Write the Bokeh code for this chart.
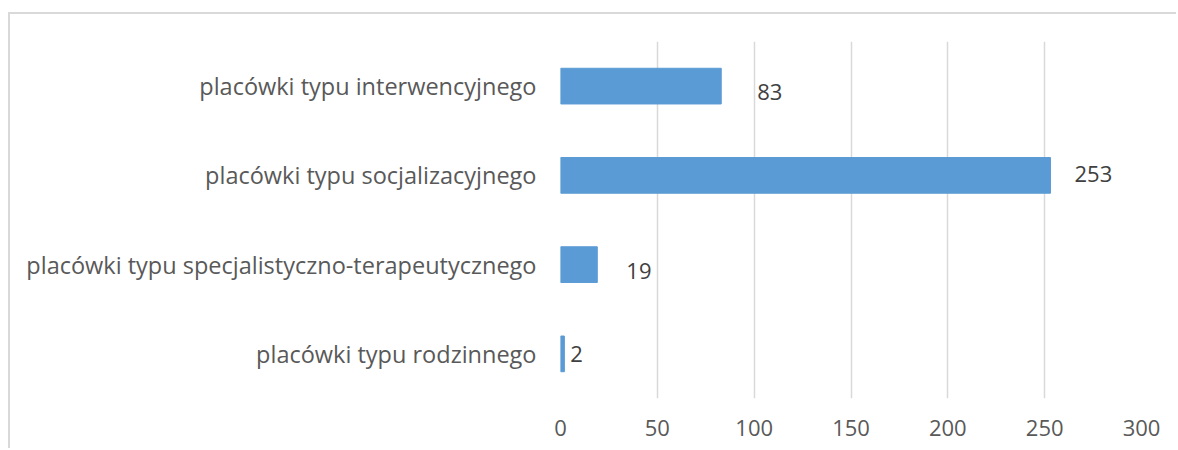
from bokeh.plotting import figure
from bokeh.models import ColumnDataSource, FixedTicker, FactorRange, Range1d, GlobalInlineStyleSheet
from bokeh.core.properties import value
from bokeh.embed import file_html
from bokeh.resources import INLINE

categories = [
    "placówki typu interwencyjnego",
    "placówki typu socjalizacyjnego",
    "placówki typu specjalistyczno-terapeutycznego",
    "placówki typu rodzinnego",
]
counts = [83, 253, 19, 2]
x_ticks = [0, 50, 100, 150, 200, 250, 300]
label_dx = [36, 24, 29, 6]
label_dy = [6, -1, 6, 0]

src = ColumnDataSource(dict(
    cat=categories, val=counts, txt=[str(v) for v in counts],
    dx=label_dx, dy=label_dy,
))

FONT = "Open Sans"

p = figure(
    width=1168, height=436,
    y_range=FactorRange(factors=categories[::-1], range_padding=0),
    x_range=Range1d(0, 300),
    output_backend="svg", toolbar_location=None,
    min_border_left=550, min_border_right=37, min_border_top=27, min_border_bottom=52,
)
p.styles = {"border-top": "2px solid #D9D9D9", "border-left": "2px solid #D9D9D9",
            "margin-top": "12px", "margin-left": "8px"}
p.stylesheets = [GlobalInlineStyleSheet(css="html, body { overflow: hidden; }")]
p.outline_line_color = None
p.background_fill_color = "white"
p.border_fill_color = "white"

p.hbar(y="cat", left=0, right="val", height=0.4, source=src,
       fill_color="#5B9BD5", line_color="#5B9BD5")

p.text(x="val", y="cat", text="txt", x_offset="dx", y_offset="dy", source=src,
       text_font=value(FONT), text_font_size="22px", text_color="#404040",
       text_align="left", text_baseline="middle")

p.xaxis.ticker = FixedTicker(ticks=x_ticks)
p.xaxis.axis_line_color = None
p.xaxis.major_tick_line_color = None
p.xaxis.minor_tick_line_color = None
p.xaxis.major_tick_out = 0
p.xaxis.major_tick_in = 0
p.xaxis.minor_tick_out = 0
p.xaxis.major_label_standoff = 21
p.xaxis.major_label_text_font = FONT
p.xaxis.major_label_text_font_size = "22px"
p.xaxis.major_label_text_color = "#595959"

p.yaxis.axis_line_color = None
p.yaxis.major_tick_line_color = None
p.yaxis.major_tick_out = 0
p.yaxis.major_tick_in = 0
p.yaxis.major_label_standoff = 24
p.yaxis.major_label_text_font = FONT
p.yaxis.major_label_text_font_size = "23.5px"
p.yaxis.major_label_text_color = "#595959"

p.ygrid.grid_line_color = None
p.xgrid.grid_line_color = "#D9D9D9"
p.xgrid.grid_line_width = 1.5

open("out.html", "w").write(file_html(p, INLINE))
